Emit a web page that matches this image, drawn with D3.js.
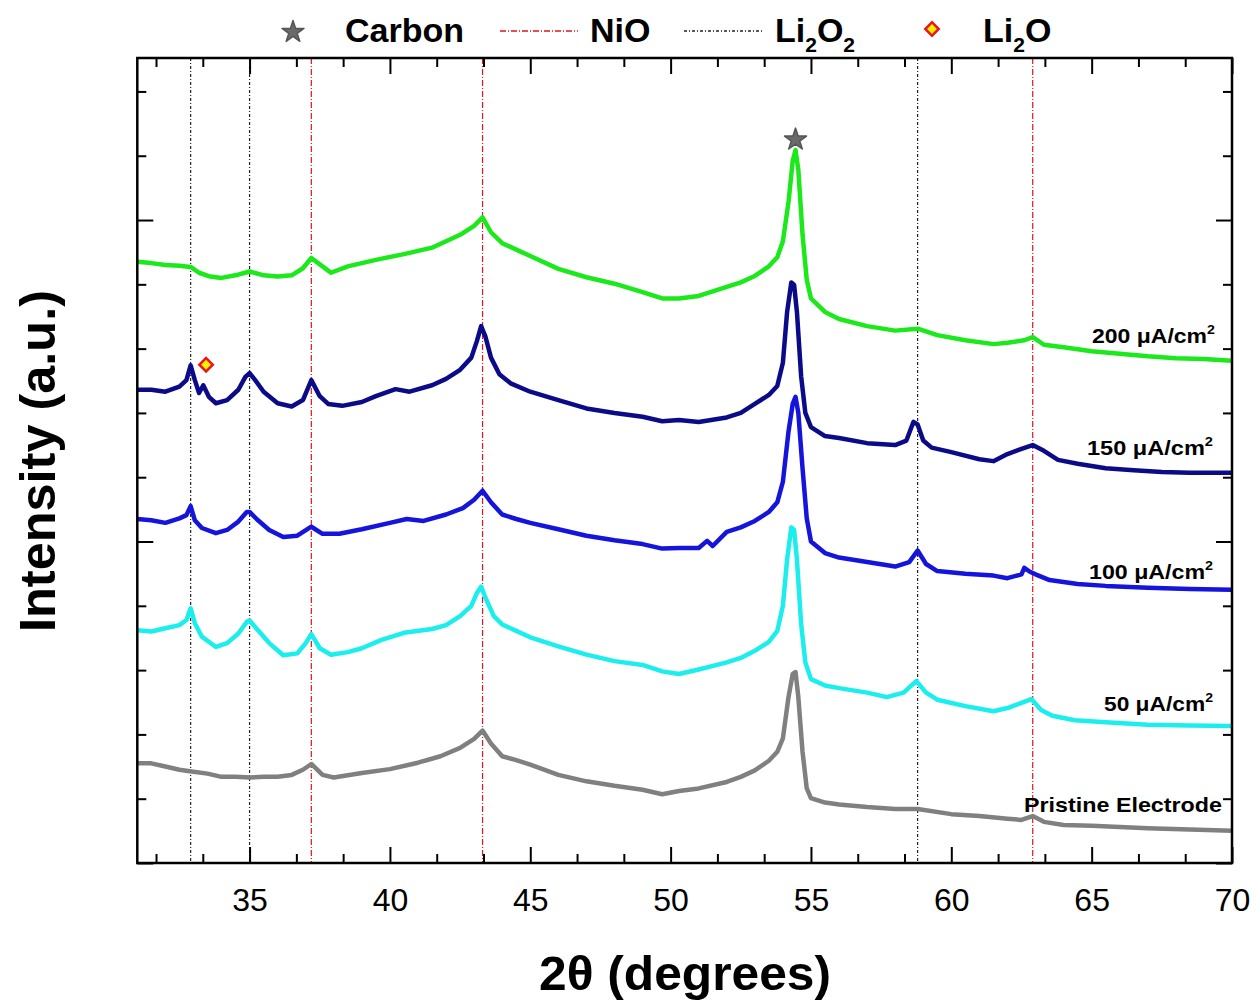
<!DOCTYPE html>
<html><head><meta charset="utf-8">
<script src="https://cdn.jsdelivr.net/npm/d3@7"></script>
<style>
body{margin:0;background:#fff;}
svg{display:block;font-family:"Liberation Sans",Arial,Helvetica,sans-serif;}
</style>
</head><body>
<svg id="chart" width="1257" height="1002"></svg>
<script>
// ---------------- DATA (2θ in degrees, intensity in a.u.) ----------------
const seriesNames = ["200 μA/cm²", "150 μA/cm²", "100 μA/cm²", "50 μA/cm²", "Pristine Electrode"];

const i200 = [[31.0,935],[31.5,933],[32.0,930],[32.5,929],[32.9,927],[33.2,918],[33.6,912],[34.0,910],[34.5,914],[35.0,920],[35.5,914],[36.0,912],[36.5,914],[36.9,925],[37.2,941],[37.6,928],[37.9,918],[38.5,928],[39.5,938],[40.5,947],[41.5,957],[42.0,967],[42.5,977],[43.0,991],[43.3,1004],[43.6,981],[44.0,964],[44.5,954],[45.0,944],[46.0,924],[47.0,911],[48.0,901],[49.0,888],[49.7,878],[50.3,878],[51.0,882],[52.0,896],[52.5,903],[53.0,913],[53.5,928],[53.8,942],[54.0,967],[54.2,1028],[54.35,1092],[54.45,1109],[54.55,1078],[54.7,977],[54.85,907],[55.0,878],[55.5,857],[56.0,846],[57.0,835],[58.0,828],[58.8,831],[59.5,821],[60.5,813],[61.5,807],[62.0,809],[62.6,813],[62.9,818],[63.3,806],[64.0,802],[65.0,796],[66.0,792],[67.0,788],[68.0,785],[69.0,784],[70.0,781]];

const i150 = [[31.0,736],[31.5,736],[32.0,733],[32.5,741],[32.75,751],[32.9,774],[33.05,751],[33.2,731],[33.35,743],[33.55,725],[33.8,715],[34.2,720],[34.6,736],[34.85,756],[35.0,762],[35.2,751],[35.5,733],[36.0,715],[36.5,710],[36.9,720],[37.2,751],[37.5,726],[37.8,714],[38.3,711],[39.0,717],[39.5,726],[40.2,737],[40.7,733],[41.5,743],[42.0,753],[42.5,767],[42.9,786],[43.1,812],[43.25,835],[43.4,819],[43.6,786],[43.9,760],[44.3,746],[45.0,733],[46.0,720],[47.0,707],[48.0,700],[49.0,694],[49.7,687],[50.3,689],[51.0,686],[52.0,693],[52.5,700],[53.0,714],[53.5,728],[53.8,742],[54.0,778],[54.15,857],[54.3,903],[54.4,899],[54.5,857],[54.65,757],[54.8,700],[55.0,678],[55.5,664],[56.0,661],[57.0,653],[58.0,650],[58.4,657],[58.65,686],[58.8,682],[59.0,657],[59.3,646],[60.0,639],[61.0,628],[61.5,625],[62.0,636],[62.5,644],[62.9,650],[63.3,641],[63.8,627],[64.5,621],[65.5,614],[66.5,611],[67.5,608],[68.5,607],[70.0,607]];

const i100 = [[31.0,535],[31.5,533],[32.0,529],[32.5,536],[32.75,541],[32.9,555],[33.05,533],[33.3,521],[33.8,513],[34.2,518],[34.6,531],[34.9,546],[35.0,546],[35.3,533],[35.7,518],[36.2,507],[36.7,509],[37.2,523],[37.6,512],[38.2,512],[39.0,519],[40.0,529],[40.6,535],[41.2,532],[42.0,542],[42.6,552],[43.0,565],[43.3,579],[43.6,561],[44.0,542],[44.5,535],[45.0,529],[46.0,519],[47.0,509],[48.0,502],[49.0,496],[49.7,489],[50.3,490],[51.0,490],[51.3,501],[51.5,493],[52.0,515],[52.5,522],[53.0,532],[53.5,546],[53.8,561],[54.0,593],[54.2,671],[54.35,714],[54.45,725],[54.55,700],[54.7,614],[54.85,536],[55.0,500],[55.5,482],[56.0,475],[57.0,468],[58.0,461],[58.5,468],[58.8,486],[59.1,465],[59.5,454],[60.5,450],[61.5,447],[62.0,443],[62.5,449],[62.6,459],[62.8,453],[63.0,449],[63.5,440],[64.5,434],[65.5,431],[67.0,428],[68.5,426],[70.0,425]];

const i50 = [[31.0,362],[31.5,360],[32.0,365],[32.5,370],[32.75,378],[32.9,396],[33.05,373],[33.3,352],[33.8,336],[34.2,342],[34.6,357],[34.9,375],[35.0,377],[35.3,362],[35.7,342],[36.2,323],[36.7,326],[37.0,342],[37.2,356],[37.5,334],[37.9,324],[38.5,328],[39.0,334],[39.7,347],[40.5,358],[41.5,364],[42.0,370],[42.5,384],[42.9,400],[43.1,420],[43.25,430],[43.4,413],[43.7,384],[44.0,371],[44.5,361],[45.0,351],[46.0,337],[47.0,324],[48.0,314],[49.0,308],[49.7,298],[50.3,294],[51.0,301],[52.0,312],[52.5,319],[53.0,330],[53.5,344],[53.8,361],[54.0,400],[54.15,472],[54.3,522],[54.4,518],[54.5,472],[54.65,372],[54.8,312],[55.0,286],[55.5,276],[56.0,272],[57.0,265],[57.7,258],[58.3,265],[58.75,283],[59.1,265],[59.5,254],[60.5,244],[61.5,236],[62.0,241],[62.5,249],[62.85,255],[63.2,238],[63.6,229],[64.4,222],[65.5,219],[67.0,215],[68.5,214],[70.0,213]];

const iPristine = [[31.0,155],[31.5,155],[32.0,150],[32.5,145],[33.0,142],[33.5,139],[34.0,134],[34.5,134],[35.0,133],[35.5,134],[36.0,134],[36.5,137],[36.9,145],[37.2,154],[37.6,137],[38.0,133],[39.0,140],[40.0,146],[41.0,156],[41.8,166],[42.5,179],[43.0,193],[43.3,206],[43.6,186],[44.0,166],[44.5,160],[45.0,153],[46.0,137],[47.0,127],[48.0,120],[49.0,114],[49.7,107],[50.3,112],[51.0,116],[52.0,126],[52.5,134],[53.0,144],[53.5,159],[53.8,173],[54.0,194],[54.2,258],[54.35,294],[54.45,297],[54.55,258],[54.7,173],[54.85,116],[55.0,101],[55.5,94],[56.0,91],[57.0,87],[58.0,84],[58.8,84],[60.0,76],[61.0,73],[62.0,69],[62.5,67],[62.9,73],[63.3,64],[64.0,59],[65.0,58],[66.0,56],[67.0,54],[68.5,52],[70.0,50]];

const seriesColors = ["#1be91b", "#0b0b8a", "#1414dc", "#1ceeee", "#808080"];

// reference peak positions (2θ)
const li2o2Peaks = [32.9, 35.0, 58.8];
const nioPeaks = [37.2, 43.3, 62.9];
const carbonPeak = [54.45, 1125];
const li2oPeak = [33.45, 775];

const xMajorTicks = [35, 40, 45, 50, 55, 60, 65, 70];
const yMajorTicks = [0, 500, 1000];

// ---------------- DRAWING ----------------
const svg = d3.select("#chart");
const L = 137.3, R = 1232, T = 58, B = 863;
const x = d3.scaleLinear().domain([31, 70]).range([L, R]);
const y = d3.scaleLinear().domain([0, 1252]).range([B, T]);

const xMinorTicks = d3.range(-2, 22).filter(k => k % 3 !== 0).map(k => 35 + k * 5 / 3);
const yMinorTicks = d3.range(100, 1252, 100).filter(v => v % 500 !== 0);

svg.append("defs").append("clipPath").attr("id", "clip")
  .append("rect").attr("x", L).attr("y", T).attr("width", R - L).attr("height", B - T);

// reference lines
const refG = svg.append("g");
refG.selectAll(".li").data(li2o2Peaks).join("line")
  .attr("x1", d => x(d)).attr("x2", d => x(d)).attr("y1", T).attr("y2", B)
  .attr("stroke", "#222").attr("stroke-width", 1.2).attr("stroke-dasharray", "3,2,1,2");
refG.selectAll(".ni").data(nioPeaks).join("line")
  .attr("x1", d => x(d)).attr("x2", d => x(d)).attr("y1", T).attr("y2", B)
  .attr("stroke", "#e2141e").attr("stroke-width", 1.2).attr("stroke-dasharray", "6,2,1,2");

// curves
const line = d3.line().x(d => x(d[0])).y(d => y(d[1])).curve(d3.curveLinear);
const allSeries = [i200, i150, i100, i50, iPristine];
svg.append("g").attr("clip-path", "url(#clip)")
  .selectAll("path").data(allSeries).join("path")
  .attr("d", line).attr("fill", "none")
  .attr("stroke", (d, i) => seriesColors[i])
  .attr("stroke-width", 4.5).attr("stroke-linejoin", "round");

// axes (ticks inward on all four sides)
function styleAxis(g) {
  g.select(".domain").remove();
  g.selectAll(".tick line").attr("stroke", "#000").attr("stroke-width", 2);
}
svg.append("g").attr("transform", `translate(0,${B})`)
  .call(d3.axisBottom(x).tickValues(xMajorTicks).tickSize(-16).tickPadding(25).tickFormat(d3.format("d")))
  .call(styleAxis)
  .call(g => g.selectAll("text").attr("font-size", 32).attr("fill", "#000"));
svg.append("g").attr("transform", `translate(0,${B})`)
  .call(d3.axisBottom(x).tickValues(xMinorTicks).tickSize(-9).tickFormat(""))
  .call(styleAxis);
svg.append("g").attr("transform", `translate(0,${T})`)
  .call(d3.axisTop(x).tickValues(xMajorTicks).tickSize(-16).tickFormat(""))
  .call(styleAxis);
svg.append("g").attr("transform", `translate(0,${T})`)
  .call(d3.axisTop(x).tickValues(xMinorTicks).tickSize(-9).tickFormat(""))
  .call(styleAxis);
svg.append("g").attr("transform", `translate(${L},0)`)
  .call(d3.axisLeft(y).tickValues(yMajorTicks).tickSize(-16).tickFormat(""))
  .call(styleAxis);
svg.append("g").attr("transform", `translate(${L},0)`)
  .call(d3.axisLeft(y).tickValues(yMinorTicks).tickSize(-9).tickFormat(""))
  .call(styleAxis);
svg.append("g").attr("transform", `translate(${R},0)`)
  .call(d3.axisRight(y).tickValues(yMajorTicks).tickSize(-16).tickFormat(""))
  .call(styleAxis);
svg.append("g").attr("transform", `translate(${R},0)`)
  .call(d3.axisRight(y).tickValues(yMinorTicks).tickSize(-9).tickFormat(""))
  .call(styleAxis);

svg.append("rect").attr("x", L).attr("y", T).attr("width", R - L).attr("height", B - T)
  .attr("fill", "none").attr("stroke", "#000").attr("stroke-width", 2.5);

// markers
const starPath = d3.symbol().type(d3.symbolStar).size(150);
const diamondPath = d3.symbol().type(d3.symbolSquare).size(90);
svg.append("path").attr("d", starPath())
  .attr("transform", `translate(${x(carbonPeak[0])},${y(carbonPeak[1])})`)
  .attr("fill", "#6a6a6a").attr("stroke", "#555").attr("stroke-width", 1.5).attr("stroke-linejoin", "round");
svg.append("path").attr("d", diamondPath())
  .attr("transform", `translate(${x(li2oPeak[0])},${y(li2oPeak[1])}) rotate(45)`)
  .attr("fill", "#ffee00").attr("stroke", "#e8141e").attr("stroke-width", 2.5);

// series labels
const labelSpecs = [
  {num: "200 ", x: 1092, y: 343, w: 123},
  {num: "150 ", x: 1087, y: 455, w: 126},
  {num: "100 ", x: 1089, y: 579, w: 124},
  {num: "50 ", x: 1104, y: 711, w: 109}
];
labelSpecs.forEach(s => {
  const t = svg.append("text").attr("x", s.x).attr("y", s.y)
    .attr("font-size", 21).attr("font-weight", "bold").attr("fill", "#000")
    .attr("textLength", s.w).attr("lengthAdjust", "spacingAndGlyphs");
  t.append("tspan").text(s.num + "μA/cm");
  t.append("tspan").attr("font-size", 13).attr("dy", -9).text("2");
});
svg.append("text").attr("x", 1024).attr("y", 812)
  .attr("font-size", 21).attr("font-weight", "bold").attr("fill", "#000")
  .attr("textLength", 198).attr("lengthAdjust", "spacingAndGlyphs")
  .text(seriesNames[4]);

// axis titles
svg.append("text").attr("x", 685).attr("y", 990).attr("text-anchor", "middle")
  .attr("font-size", 49).attr("font-weight", "bold")
  .attr("textLength", 292).attr("lengthAdjust", "spacingAndGlyphs")
  .text("2θ (degrees)");
svg.append("text").attr("transform", "translate(55,461) rotate(-90)").attr("text-anchor", "middle")
  .attr("font-size", 50).attr("font-weight", "bold")
  .attr("textLength", 342).attr("lengthAdjust", "spacingAndGlyphs")
  .text("Intensity (a.u.)");

// legend
const lg = svg.append("g");
lg.append("path").attr("d", starPath()).attr("transform", "translate(293,32)")
  .attr("fill", "#6a6a6a").attr("stroke", "#555").attr("stroke-width", 1.5).attr("stroke-linejoin", "round");
lg.append("text").attr("x", 345).attr("y", 42).attr("font-size", 34).attr("font-weight", "bold").text("Carbon");
lg.append("line").attr("x1", 500).attr("x2", 578).attr("y1", 31).attr("y2", 31)
  .attr("stroke", "#e2141e").attr("stroke-width", 1.3).attr("stroke-dasharray", "6,2,1,2");
lg.append("text").attr("x", 590).attr("y", 42).attr("font-size", 34).attr("font-weight", "bold").text("NiO");
lg.append("line").attr("x1", 684).attr("x2", 762).attr("y1", 31).attr("y2", 31)
  .attr("stroke", "#222").attr("stroke-width", 1.3).attr("stroke-dasharray", "3,2,1,2");
const t1 = lg.append("text").attr("x", 775).attr("y", 42).attr("font-size", 34).attr("font-weight", "bold");
t1.append("tspan").text("Li");
t1.append("tspan").attr("font-size", 21).attr("dy", 10).text("2");
t1.append("tspan").attr("dy", -10).text("O");
t1.append("tspan").attr("font-size", 21).attr("dy", 10).text("2");
lg.append("path").attr("d", diamondPath()).attr("transform", "translate(932,29) rotate(45)")
  .attr("fill", "#ffee00").attr("stroke", "#e8141e").attr("stroke-width", 2.5);
const t2 = lg.append("text").attr("x", 983).attr("y", 42).attr("font-size", 34).attr("font-weight", "bold");
t2.append("tspan").text("Li");
t2.append("tspan").attr("font-size", 21).attr("dy", 10).text("2");
t2.append("tspan").attr("dy", -10).text("O");
</script>
</body></html>
